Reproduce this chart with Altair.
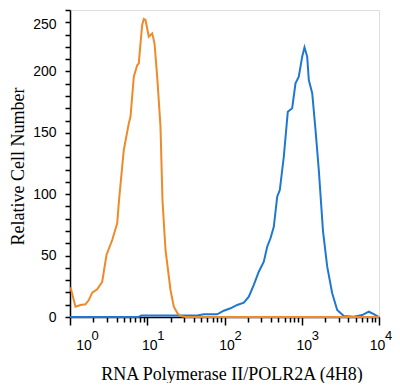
import altair as alt
import pandas as pd

# Orange histogram (isotype / control)
orange_x = [1.015, 1.178, 1.367, 1.587, 1.751, 1.938, 2.249, 2.611, 2.968, 3.518,
            4.083, 4.309, 4.97, 5.77, 6.07, 6.70, 7.41, 7.77, 8.18, 8.60,
            9.02, 9.49, 10.47, 11.59, 12.41, 13.45, 14.84, 15.75, 17.23, 20.0,
            22.07, 24.6, 26.9, 31.3, 10000]
orange_y = [24.2, 8.4, 9.8, 10.3, 13.8, 19.8, 22.6, 28.7, 50.5, 62.7,
            76.3, 95, 136, 157.7, 163, 195.7, 205, 206.6, 222.9, 237.8,
            242.7, 241.9, 228.3, 231, 222.9, 195.7, 155, 95, 54.6, 22,
            8.4, 3, 0.8, 0, 0]

# Blue histogram (stained)
blue_x = [1, 7.70, 8.43, 44.3, 54.0, 80.4, 97.9, 119.6, 146, 177.8,
          206.4, 239.5, 278, 322.7, 357, 394, 434.6, 481, 519.8, 585.6,
          659.7, 752, 830, 915.7, 1013, 1085, 1176, 1234, 1366, 1507,
          1662, 1884, 2136, 2479, 2877, 3502, 4719, 6061, 7379, 8566,
          10000]
blue_y = [0, 0, 1.2, 1.2, 2.2, 2.2, 5.1, 7.1, 9.8, 11.6,
          16.5, 26.1, 36.9, 45, 57.2, 64.1, 73.5, 98, 103.4, 130.5,
          167.2, 170, 190.3, 195.7, 212, 219.6, 212, 193, 182.2, 152.4,
          119.7, 70, 41, 19.3, 5.7, 0.8, 0.2, 1.6, 4.3, 2.4,
          0]

# x tick labels (10^n), anchor positions (end labels nudged inward)
label_x = [1.41, 10, 100, 1000, 8900]
label_base = ["10", "10", "10", "10", "10"]
label_exp = ["0", "1", "2", "3", "4"]

x_ticks = [m * k for m in [1, 10, 100, 1000] for k in range(1, 10)] + [10000]
y_ticks = list(range(0, 251, 10))

orange = pd.DataFrame({"x": orange_x, "y": orange_y})
blue = pd.DataFrame({"x": blue_x, "y": blue_y})
labels = pd.DataFrame({"x": label_x, "base": label_base, "exp": label_exp})

xscale = alt.Scale(type="log", domain=[1, 10000])
yscale = alt.Scale(domain=[0, 250], nice=False)

xaxis = alt.Axis(
    values=x_ticks, labels=False, grid=False,
    domainColor="black", domainWidth=1.5,
    tickColor="black", tickWidth=1.5,
    tickSize={"condition": {"test": "indexof([1,10,100,1000,10000], datum.value) >= 0", "value": 8}, "value": 5},
    title="RNA Polymerase II/POLR2A (4H8)",
    titleFont="Liberation Serif", titleFontSize=18, titleFontWeight="normal", titleColor="black",
    titleX=161.5, titleY=62, titleBaseline="alphabetic", titleAlign="center",
)
yaxis = alt.Axis(
    values=y_ticks, grid=False,
    labelExpr="datum.value % 50 === 0 ? datum.label : ''",
    domainColor="black", domainWidth=1.5,
    tickColor="black", tickWidth=1.5, tickSize=5,
    labelPadding=9, labelFont="Liberation Sans", labelFontSize=14, labelColor="black",
    labelOffset={"condition": {"test": "datum.value === 250", "value": 14}, "value": 0},
    title="Relative Cell Number",
    titleFont="Liberation Serif", titleFontSize=18, titleFontWeight="normal", titleColor="black",
    titleX=-47, titleY=156, titleBaseline="alphabetic", titleAlign="center",
)

xenc = alt.X("x:Q", scale=xscale, axis=xaxis)

blue_line = alt.Chart(blue).mark_line(color="#1E78D2", strokeWidth=2).encode(
    x=xenc, y=alt.Y("y:Q", scale=yscale, axis=yaxis)
)
orange_line = alt.Chart(orange).mark_line(color="#EE8A2A", strokeWidth=2).encode(
    x=xenc, y=alt.Y("y:Q", scale=yscale, axis=yaxis)
)
base_text = alt.Chart(labels).mark_text(
    align="center", baseline="alphabetic", font="Liberation Sans", fontSize=14, dx=2.5, color="black"
).encode(x=xenc, y=alt.value(340), text="base:N")
exp_text = alt.Chart(labels).mark_text(
    align="left", baseline="alphabetic", font="Liberation Sans", fontSize=13, dx=10, color="black"
).encode(x=xenc, y=alt.value(330), text="exp:N")

chart = alt.layer(blue_line, orange_line, base_text, exp_text).properties(
    width=309, height=307,
    autosize=alt.AutoSizeParams(type="none"),
    padding={"left": 62, "top": 2, "right": 13, "bottom": 66},
).configure_view(stroke=None).configure(background="white")

chart.save("out.html", embed_options={"renderer": "svg", "actions": False})
